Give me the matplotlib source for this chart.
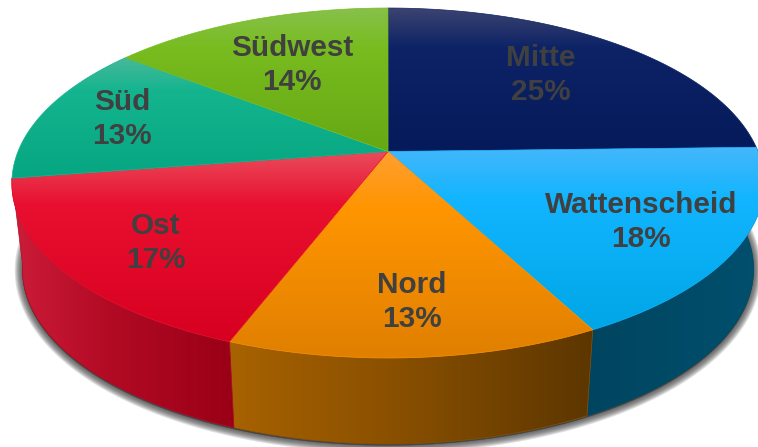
import numpy as np
import matplotlib
matplotlib.use("Agg")
import matplotlib.pyplot as plt
from matplotlib.colors import LinearSegmentedColormap
from matplotlib.patches import Polygon

# ---- data ----
categories = ["Mitte", "Wattenscheid", "Nord", "Ost", "Süd", "Südwest"]
shares = [24.6, 17.7, 13.5, 16.75, 13.0, 14.45]
percent_labels = ["25%", "18%", "13%", "17%", "13%", "14%"]

# ---- styles ----
top_colors = [
    ["#3d4470", "#0d2366", "#051a5a"],
    ["#45b7fb", "#12b5ff", "#00a6e6"],
    ["#ff9f30", "#ff9500", "#e07f00"],
    ["#ea4c5c", "#e80f2f", "#d80020"],
    ["#48b99a", "#14b48f", "#06a682"],
    ["#88c14c", "#78bc20", "#66a812"],
]
wall_colors = {
    1: ["#004560", "#004a66", "#00506e"],
    2: ["#a86200", "#8a5000", "#5c3600"],
    3: ["#cc1c3a", "#b20a24", "#990016"],
}
label_xy = [(541, 75), (641, 222), (412, 302), (156, 243), (122, 119), (292, 65)]

# ---- projection of the disc ----
CX, CY, A, B, K = 388.0, 151.5, 370.0, 169.3, 0.18
DEPTH, SHRINK = 86.0, 0.972


def top_pts(theta):
    u, v = np.sin(theta), np.cos(theta)
    w = 1 + K * v
    return CX + A * u / w, CY - B * v / w


def bottom_pts(theta):
    x, y = top_pts(theta)
    return CX + SHRINK * (x - CX), y + DEPTH


fig = plt.figure(figsize=(7.58, 4.47), dpi=100)
ax = fig.add_axes([0, 0, 1, 1])
ax.set_xlim(0, 758)
ax.set_ylim(447, 0)
ax.axis("off")

edges = np.cumsum([0] + shares) / sum(shares) * 2 * np.pi


def gradient(poly_xy, colors, horizontal, z, stops=(0, 0.28, 1)):
    xs, ys = poly_xy[:, 0], poly_xy[:, 1]
    cmap = LinearSegmentedColormap.from_list("g", list(zip(stops, colors)))
    ramp = np.linspace(0, 1, 256)
    img = ramp[None, :] if horizontal else ramp[:, None]
    im = ax.imshow(img, cmap=cmap, aspect="auto", zorder=z, interpolation="bilinear",
                   extent=(xs.min(), xs.max(), ys.max(), ys.min()), vmin=0, vmax=1)
    patch = Polygon(poly_xy, closed=True, transform=ax.transData, fc="none", ec="none")
    ax.add_patch(patch)
    im.set_clip_path(patch)
    # soft rim so that the clipped edge is smooth
    ax.add_patch(Polygon(poly_xy, closed=True, fc="none", ec=colors[1], lw=0.5, zorder=z))


# shadow under the wall
th = np.linspace(np.radians(80), np.radians(275), 300)
bx, by = bottom_pts(th)
shadow = np.column_stack([bx, by + 1.5])
for lw in np.arange(11, 0, -1.5):
    ax.add_patch(Polygon(shadow, closed=True, fc="#3a3a3a", ec="#3a3a3a", lw=lw,
                         alpha=0.16, zorder=1, joinstyle="round"))

# walls
for i, cols in wall_colors.items():
    th = np.linspace(edges[i], edges[i + 1], 120)
    tx, ty = top_pts(th)
    bx, by = bottom_pts(th)
    poly = np.column_stack([np.r_[tx, bx[::-1]], np.r_[ty, by[::-1]]])
    gradient(poly, cols, True, 2, stops=(0, 0.45, 1))

# top faces
for i in range(len(shares)):
    th = np.linspace(edges[i], edges[i + 1], 160)
    tx, ty = top_pts(th)
    poly = np.column_stack([np.r_[CX, tx], np.r_[CY, ty]])
    gradient(poly, top_colors[i], False, 3 + i * 0.01)

ax.set_xlim(0, 758)
ax.set_ylim(447, 0)

for name, pct, (x, y) in zip(categories, percent_labels, label_xy):
    ax.text(x, y, f"{name}\n{pct}", ha="center", va="center", color="#404040",
            family="Liberation Sans", fontweight="bold", fontsize=21.4, zorder=10,
            linespacing=1.23)

fig.savefig("out.png", dpi=100, facecolor="white")
